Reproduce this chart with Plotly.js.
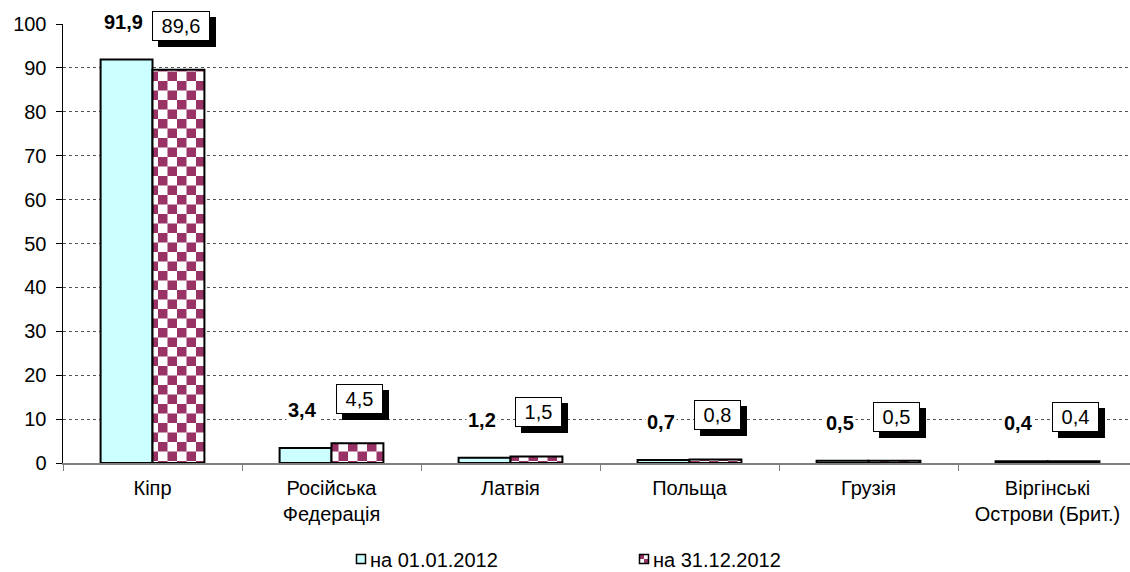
<!DOCTYPE html>
<html>
<head>
<meta charset="utf-8">
<script src="https://cdn.plot.ly/plotly-3.0.1.min.js"></script>
<style>
  html, body { margin: 0; padding: 0; overflow: hidden; background: #fff; }
  #chart { width: 1140px; height: 600px; }
</style>
</head>
<body>
<div id="chart"></div>
<script>
const categories = ['Кіпр', 'Російська<br>Федерація', 'Латвія', 'Польща', 'Грузія', 'Віргінські<br>Острови (Брит.)'];
const seriesNames = ['на 01.01.2012', 'на 31.12.2012'];
const values2012start = [91.9, 3.4, 1.2, 0.7, 0.5, 0.4];
const values2012end = [89.6, 4.5, 1.5, 0.8, 0.5, 0.4];
const yTicks = [0, 10, 20, 30, 40, 50, 60, 70, 80, 90, 100];

const FONT = 'Liberation Sans, Arial, sans-serif';
const CYAN = '#CCFFFF';
const MAROON = '#993366';

function fmt(v) { return v.toFixed(1).replace('.', ','); }

const traces = [
  {
    type: 'bar', name: seriesNames[0], x: categories, y: values2012start,
    marker: { color: CYAN, line: { color: '#000', width: 2 } },
    hoverinfo: 'skip'
  },
  {
    type: 'bar', name: seriesNames[1], x: categories, y: values2012end,
    marker: { color: MAROON, line: { color: '#000', width: 2 },
      pattern: { shape: '.', fgcolor: MAROON, bgcolor: '#ffffff', size: 19, solidity: 0.5 } },
    hoverinfo: 'skip'
  }
];

const annotations = [];
categories.forEach((c, i) => {
  annotations.push({
    x: c, y: values2012start[i], xref: 'x', yref: 'y',
    text: '<b>' + fmt(values2012start[i]) + '</b>', showarrow: false,
    xshift: -29, yshift: 38, yanchor: 'middle', xanchor: 'center',
    bgcolor: '#ffffff', borderpad: 1,
    font: { family: FONT, size: 20, color: '#000' }
  });
});
const boxStart = annotations.length;
categories.forEach((c, i) => {
  annotations.push({
    x: c, y: values2012end[i], xref: 'x', yref: 'y',
    text: '\u00A0' + fmt(values2012end[i]) + '\u00A0', showarrow: false,
    xshift: 28, yshift: 44, yanchor: 'middle', xanchor: 'center',
    bgcolor: '#ffffff', bordercolor: '#000', borderwidth: 1, borderpad: 3,
    font: { family: FONT, size: 20, color: '#000' }
  });
});

const PLOT_H = 439;
const layout = {
  width: 1140, height: 600,
  margin: { l: 63, r: 3, t: 24, b: 137, autoexpand: false },
  paper_bgcolor: '#fff', plot_bgcolor: '#fff',
  font: { family: FONT, size: 20, color: '#000' },
  barmode: 'group', bargap: 0.42, bargroupgap: 0,
  showlegend: true,
  legend: {
    orientation: 'h', x: 0.2486, xanchor: 'left', y: -(559 - 463) / PLOT_H, yanchor: 'middle',
    entrywidth: 238, entrywidthmode: 'pixels', itemwidth: 30,
    font: { family: FONT, size: 20, color: '#000' }, bgcolor: 'rgba(0,0,0,0)'
  },
  xaxis: {
    type: 'category', showline: true, linecolor: '#808080', linewidth: 1.5,
    ticks: 'outside', tickson: 'boundaries', ticklen: 6, tickcolor: '#808080', tickwidth: 1,
    ticklabelstandoff: 6, automargin: false,
    showgrid: false, zeroline: false, fixedrange: true,
    tickfont: { family: FONT, size: 20, color: '#000' }
  },
  yaxis: {
    range: [0, 100], tickvals: yTicks, ticktext: yTicks.map(String),
    showline: true, linecolor: '#000', linewidth: 1.5,
    ticks: 'outside', ticklen: 6, tickcolor: '#000', tickwidth: 1,
    ticklabelstandoff: 5, automargin: false,
    showgrid: true, gridcolor: '#555', griddash: 'dot', gridwidth: 1,
    zeroline: false, fixedrange: true,
    tickfont: { family: FONT, size: 20, color: '#000' }
  },
  annotations: annotations
};

function post() {
  const ns = 'http://www.w3.org/2000/svg';
  const s = 19, h = s / 2;
  document.querySelectorAll('pattern').forEach(p => {
    p.setAttribute('width', s); p.setAttribute('height', s);
    while (p.firstChild) p.removeChild(p.firstChild);
    const mk = (x, y, w, hh, f) => {
      const r = document.createElementNS(ns, 'rect');
      r.setAttribute('x', x); r.setAttribute('y', y);
      r.setAttribute('width', w); r.setAttribute('height', hh);
      r.setAttribute('fill', f); p.appendChild(r);
    };
    mk(0, 0, s, s, '#ffffff');
    mk(0, 0, h, h, MAROON);
    mk(h, h, h, h, MAROON);
  });
  // drop shadows behind boxed labels
  for (let k = boxStart; k < annotations.length; k++) {
    const g = document.querySelector('g.annotation[data-index="' + k + '"]');
    if (!g) continue;
    const bg = g.querySelector('rect.bg');
    if (!bg) continue;
    const sh = bg.cloneNode(true);
    sh.setAttribute('x', parseFloat(bg.getAttribute('x') || 0) + 6);
    sh.setAttribute('y', parseFloat(bg.getAttribute('y') || 0) + 6);
    sh.style.fill = '#000'; sh.style.stroke = '#000';
    sh.setAttribute('class', 'shadow');
    bg.parentNode.insertBefore(sh, bg);
  }
  // smaller legend swatches next to text
  document.querySelectorAll('.legend .legendpoints path').forEach(p => {
    p.setAttribute('d', 'M4.5,4.5H-4.5V-4.5H4.5Z');
    p.setAttribute('transform', 'translate(31,0)');
    p.style.strokeWidth = '1.5px';
  });
}

Plotly.newPlot('chart', traces, layout, { staticPlot: true, displayModeBar: false }).then(post);
</script>
</body>
</html>
